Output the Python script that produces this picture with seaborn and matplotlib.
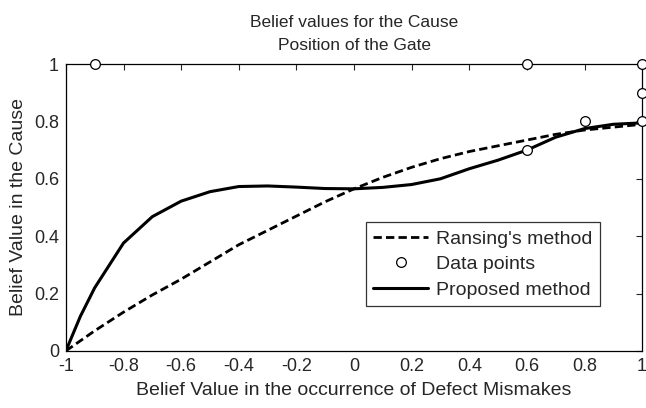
import numpy as np
import pandas as pd
import matplotlib
matplotlib.use('Agg')
import matplotlib.pyplot as plt
import seaborn as sns

sns.set_style("white")
plt.rcParams['font.family'] = ['Liberation Sans', 'DejaVu Sans']

# ---- data ----
x_grid = [-1.0, -0.95, -0.9, -0.8, -0.7, -0.6, -0.5, -0.4, -0.3, -0.2, -0.1,
          0.0, 0.1, 0.2, 0.3, 0.4, 0.5, 0.6, 0.7, 0.8, 0.9, 1.0]
ransing = [0.0, 0.035, 0.07, 0.135, 0.195, 0.25, 0.31, 0.37, 0.42, 0.47, 0.52,
           0.565, 0.605, 0.64, 0.67, 0.695, 0.715, 0.735, 0.755, 0.77, 0.78, 0.79]
proposed = [0.0, 0.12, 0.22, 0.376, 0.468, 0.522, 0.555, 0.573, 0.575, 0.571, 0.566,
            0.565, 0.57, 0.58, 0.60, 0.635, 0.665, 0.70, 0.745, 0.775, 0.79, 0.795]
pts_x = [-0.9, 0.6, 1.0, 1.0, 1.0, 0.8, 0.6]
pts_y = [1.0, 1.0, 1.0, 0.9, 0.8, 0.8, 0.7]

df = pd.DataFrame({'x': x_grid, 'ransing': ransing, 'proposed': proposed})

fig = plt.figure(figsize=(6.46, 4.08), dpi=100)
ax = fig.add_axes([0.102, 0.140, 0.892, 0.703])

sns.lineplot(data=df, x='x', y='ransing', ax=ax, color='black', lw=2,
             linestyle=(0, (3, 1.5)), label="Ransing's method")
ax.plot(pts_x, pts_y, 'o', mfc='white', mec='black', ms=7, mew=0.9,
        clip_on=False, zorder=5, label='Data points')
sns.lineplot(data=df, x='x', y='proposed', ax=ax, color='black', lw=2.2,
             label='Proposed method')

ax.set_xlim(-1, 1)
ax.set_ylim(0, 1)
ax.set_xticks(np.arange(-1, 1.01, 0.2))
ax.set_yticks(np.arange(0, 1.01, 0.2))
ax.set_xticklabels(['-1', '-0.8', '-0.6', '-0.4', '-0.2', '0', '0.2', '0.4', '0.6', '0.8', '1'])
ax.set_yticklabels(['0', '0.2', '0.4', '0.6', '0.8', '1'])
ax.tick_params(direction='in', top=True, right=True, length=4, width=0.8,
               labelsize=13, pad=5)
for s in ax.spines.values():
    s.set_color('black')
    s.set_linewidth(0.9)

ax.set_xlabel("Belief Value in the occurrence of Defect Mismakes", fontsize=14, labelpad=5)
ax.set_ylabel("Belief Value in the Cause", fontsize=14, labelpad=5)
ax.set_title("Belief values for the Cause\nPosition of the Gate", fontsize=12.5,
             linespacing=1.65, pad=10)

leg = ax.legend(loc='lower left', bbox_to_anchor=(0.52, 0.155), fontsize=14,
                frameon=True, fancybox=False, edgecolor='black',
                handlelength=2.8, borderpad=0.4, labelspacing=0.4,
                handletextpad=0.4, borderaxespad=0)
leg.get_frame().set_linewidth(0.9)

fig.savefig("out.png", dpi=100)
